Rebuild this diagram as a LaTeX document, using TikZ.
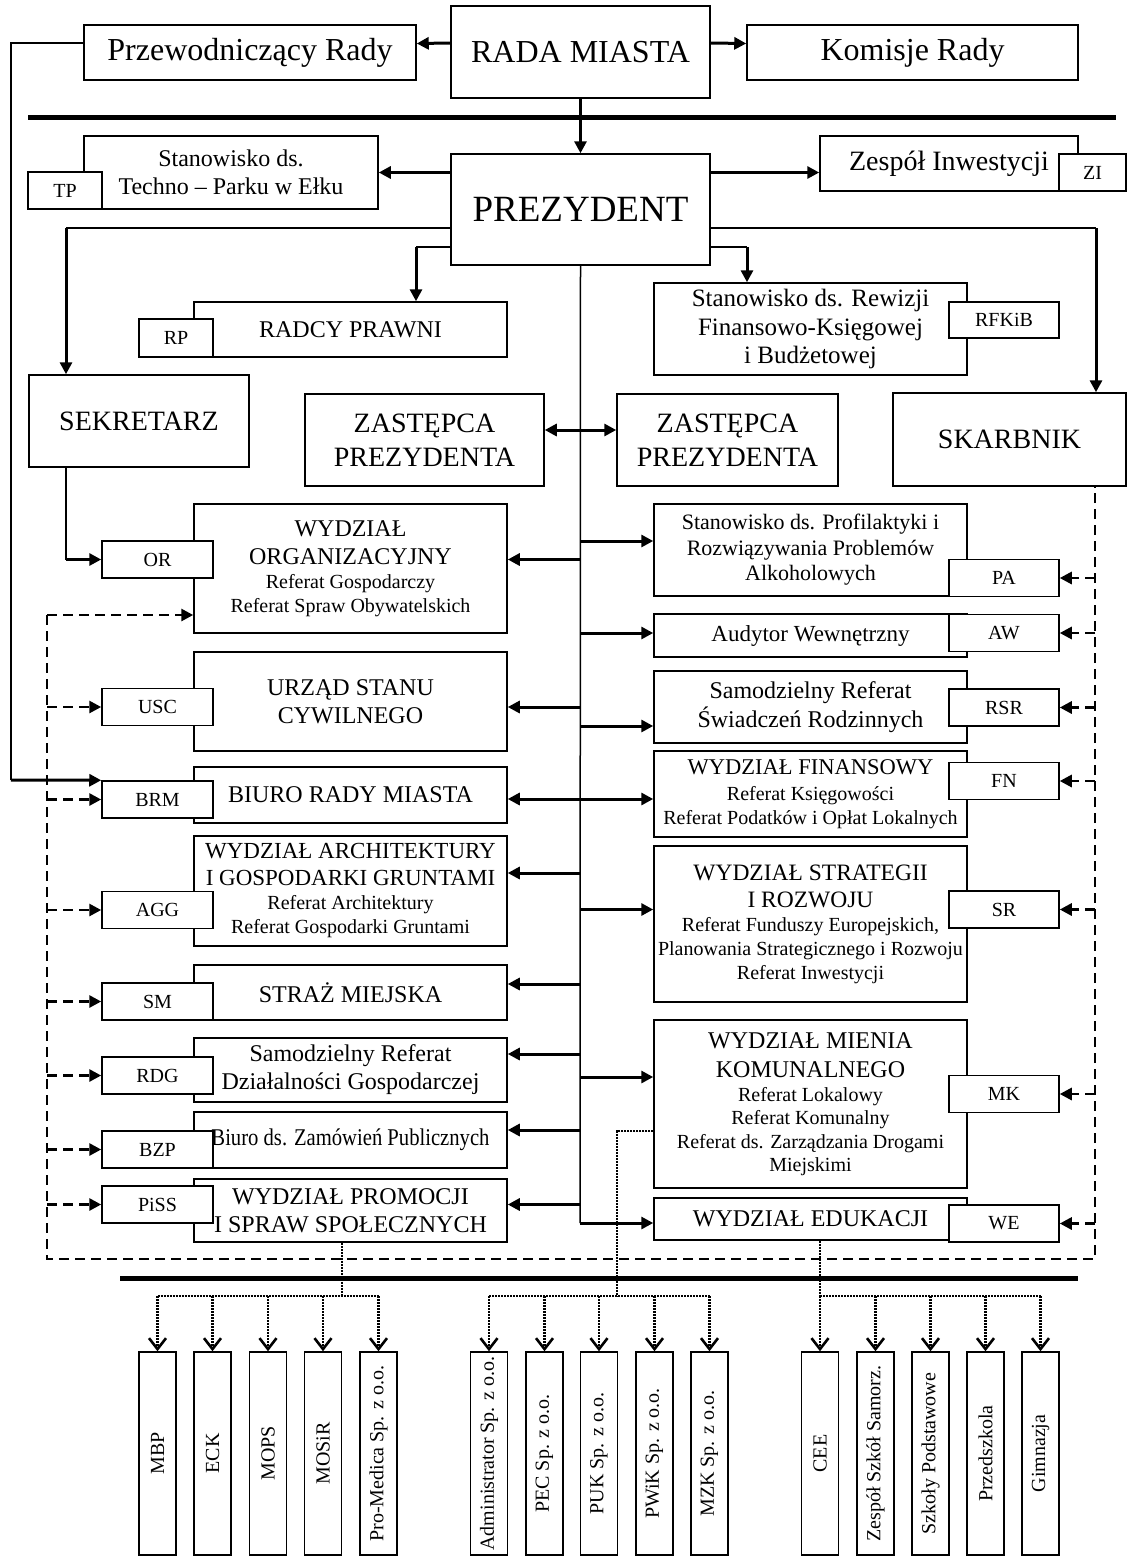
\documentclass[tikz,border=0pt]{standalone}
\usepackage{fontspec}
\setmainfont{Liberation Serif}
\usetikzlibrary{positioning, calc, arrows.meta}

\newcommand\topfont{\fontsize{32}{36}\selectfont}
\newcommand\bossfont{\fontsize{28}{34}\selectfont}
\newcommand\headfont{\fontsize{24}{28}\selectfont}
\newcommand\reffont{\fontsize{20}{24}\selectfont}

\begin{document}
\begin{tikzpicture}
    [x=1pt, y=-1pt,
    box/.style={rectangle, draw=black, line width=1.5pt, fill=white, inner sep=0pt, align=center},
    tag/.style={box, minimum width=111pt, minimum height=37pt, font=\reffont},
    unit/.style={box, rotate=90, minimum width=203pt, minimum height=37pt, font=\reffont},
    link/.style={line width=1.5pt},
    bar/.style={line width=5pt},
    arr/.style={line width=3pt, -{Triangle[length=12pt,width=12pt]}},
    ctrl/.style={line width=2.8pt, dash pattern=on 10pt off 6pt},
    ctrlarr/.style={ctrl, -{Triangle[length=12pt,width=12pt]}},
    sub/.style={line width=2.5pt, dash pattern=on 2pt off 1pt},
    subarr/.style={sub, -{Straight Barb[length=11pt,width=17pt,line width=2.6pt]}}]

    \useasboundingbox (0,0) rectangle (1128,1567);

    %Nodes
    \node[box, minimum width=259pt, minimum height=92pt, font=\topfont](RADA) at (580.5,52) {RADA MIASTA};
    \node[box, minimum width=332pt, minimum height=55pt, font=\topfont](PR) at (250,52.5) {Przewodniczący Rady};
    \node[box, minimum width=331pt, minimum height=55pt, font=\topfont](KR) at (912.5,52.5) {Komisje Rady};
    \node[box, minimum width=259pt, minimum height=111pt, font=\fontsize{37}{40}\selectfont](PREZ) at (580.5,209.5) {PREZYDENT};

    \node[box, minimum width=294pt, minimum height=73pt, font=\headfont](techno) at (231,172.5) {Stanowisko ds.\\ Techno -- Parku w Ełku};
    \node[box, minimum width=258pt, minimum height=55pt, font=\fontsize{28}{32}\selectfont](zespol) at (949,163.5) {Zespół Inwestycji};
    \node[box, minimum width=313pt, minimum height=55pt, font=\headfont](radcy) at (350.5,329.5) {RADCY PRAWNI};
    \node[box, minimum width=313pt, minimum height=92pt, font=\fontsize{25}{28.5}\selectfont](rewiz) at (810.5,329) {Stanowisko ds. Rewizji\\ Finansowo-Księgowej\\ i Budżetowej};

    \node[box, minimum width=220pt, minimum height=92pt, font=\bossfont](SEK) at (139,421) {SEKRETARZ};
    \node[box, minimum width=239pt, minimum height=92pt, font=\bossfont](Z1) at (424.5,440) {ZASTĘPCA\\ PREZYDENTA};
    \node[box, minimum width=221pt, minimum height=92pt, font=\bossfont](Z2) at (727.5,440) {ZASTĘPCA\\ PREZYDENTA};
    \node[box, minimum width=233pt, minimum height=93pt, font=\bossfont](SKARB) at (1009.5,439.5) {SKARBNIK};

    % left column
    \node[box, minimum width=313pt, minimum height=129pt, font=\reffont](wydzOrg) at (350.5,568.5) {\headfont WYDZIAŁ\\[4pt] \headfont ORGANIZACYJNY\\ Referat Gospodarczy\\ Referat Spraw Obywatelskich};
    \node[box, minimum width=313pt, minimum height=99pt, font=\headfont](urzad) at (350.5,701.5) {URZĄD STANU\\ CYWILNEGO};
    \node[box, minimum width=313pt, minimum height=56pt, font=\headfont](biuro) at (350.5,795) {BIURO RADY MIASTA};
    \node[box, minimum width=313pt, minimum height=110pt, font=\reffont](archit) at (350.5,891) {\fontsize{23}{27}\selectfont WYDZIAŁ ARCHITEKTURY\\[3pt] \fontsize{23}{27}\selectfont I GOSPODARKI GRUNTAMI\\ Referat Architektury\\ Referat Gospodarki Gruntami};
    \node[box, minimum width=313pt, minimum height=55pt, font=\headfont](straz) at (350.5,992.5) {STRAŻ MIEJSKA};
    \node[box, minimum width=313pt, minimum height=64pt, font=\headfont](dzialal) at (350.5,1070) {Samodzielny Referat\\ Działalności Gospodarczej};
    \node[box, minimum width=313pt, minimum height=56pt, font=\headfont](zamow) at (350.5,1140) {\scalebox{0.86}[1]{Biuro ds. Zamówień Publicznych}};
    \node[box, minimum width=313pt, minimum height=63pt, font=\headfont](promoc) at (350.5,1210.5) {WYDZIAŁ PROMOCJI\\ I SPRAW SPOŁECZNYCH};

    % right column
    \node[box, minimum width=313pt, minimum height=92pt, font=\fontsize{22}{25.5}\selectfont](profil) at (810.5,550) {Stanowisko ds. Profilaktyki i\\ Rozwiązywania Problemów\\ Alkoholowych};
    \node[box, minimum width=313pt, minimum height=43pt, font=\fontsize{23}{27}\selectfont](audyt) at (810.5,635.5) {Audytor Wewnętrzny};
    \node[box, minimum width=313pt, minimum height=72pt, font=\fontsize{24}{29}\selectfont](swiad) at (810.5,707) {Samodzielny Referat\\ Świadczeń Rodzinnych};
    \node[box, minimum width=313pt, minimum height=86pt, font=\reffont](finans) at (810.5,794) {\fontsize{22.5}{26}\selectfont WYDZIAŁ FINANSOWY\\[2pt] Referat Księgowości\\ Referat Podatków i Opłat Lokalnych};
    \node[box, minimum width=313pt, minimum height=156pt, font=\reffont](strat) at (810.5,924) {\fontsize{23.5}{27}\selectfont WYDZIAŁ STRATEGII\\[3pt] \fontsize{23.5}{27}\selectfont I ROZWOJU\\ Referat Funduszy Europejskich,\\ Planowania Strategicznego i Rozwoju\\ Referat Inwestycji};
    \node[box, minimum width=313pt, minimum height=168pt, font=\fontsize{20}{23.5}\selectfont](mienie) at (810.5,1104) {\headfont WYDZIAŁ MIENIA\\[6pt] \headfont KOMUNALNEGO\\ Referat Lokalowy\\ Referat Komunalny\\ Referat ds. Zarządzania Drogami\\ Miejskimi};
    \node[box, minimum width=313pt, minimum height=42pt, font=\headfont](eduk) at (810.5,1219) {WYDZIAŁ EDUKACJI};

    % tags
    \node[tag, minimum width=74pt](TP) at (65,190.5) {TP};
    \node[tag, minimum width=67pt](ZI) at (1092.5,172.5) {ZI};
    \node[tag, minimum width=74pt, minimum height=38pt](RP) at (176,338) {RP};
    \node[tag, minimum width=110pt, minimum height=36pt](RFKiB) at (1004,320) {RFKiB};

    \node[tag](OR) at (157.5,559.5) {OR};
    \node[tag](USC) at (157.5,707) {USC};
    \node[tag](BRM) at (157.5,799.5) {BRM};
    \node[tag](AGG) at (157.5,910) {AGG};
    \node[tag](SM) at (157.5,1001.5) {SM};
    \node[tag](RDG) at (157.5,1075.5) {RDG};
    \node[tag](BZP) at (157.5,1149.5) {BZP};
    \node[tag](PiSS) at (157.5,1204.5) {PiSS};

    \node[tag, minimum width=110pt](PA) at (1004,578) {PA};
    \node[tag, minimum width=110pt](AW) at (1004,633) {AW};
    \node[tag, minimum width=110pt](RSR) at (1004,707.5) {RSR};
    \node[tag, minimum width=110pt](FN) at (1004,781) {FN};
    \node[tag, minimum width=110pt](SR) at (1004,909.5) {SR};
    \node[tag, minimum width=110pt](MK) at (1004,1094) {MK};
    \node[tag, minimum width=110pt](WE) at (1004,1223.5) {WE};

    % bottom units
    \node[unit](MBP) at (157.5,1453.5) {MBP};
    \node[unit](ECK) at (212.5,1453.5) {ECK};
    \node[unit](MOPS) at (268,1453.5) {MOPS};
    \node[unit](MOSiR) at (323,1453.5) {MOSiR};
    \node[unit](PM) at (378.5,1453.5) {Pro-Medica Sp. z o.o.};

    \node[unit](ADM) at (489,1453.5) {Administrator Sp. z o.o.};
    \node[unit](PEC) at (544.5,1453.5) {PEC Sp. z o.o.};
    \node[unit](PUK) at (599,1453.5) {PUK Sp. z o.o.};
    \node[unit](PWiK) at (654.5,1453.5) {PWiK Sp. z o.o.};
    \node[unit](MZK) at (709.5,1453.5) {MZK Sp. z o.o.};

    \node[unit](CEE) at (820,1453.5) {CEE};
    \node[unit](ZSS) at (875.5,1453.5) {Zespół Szkół Samorz.};
    \node[unit](SP) at (930.5,1453.5) {Szkoły Podstawowe};
    \node[unit](PRZ) at (985.5,1453.5) {Przedszkola};
    \node[unit](GIM) at (1040.5,1453.5) {Gimnazja};

    \coordinate (k1) at (66,228);
    \coordinate (k2) at (416,247);
    \coordinate (k3) at (1096,228);
    \coordinate (k4) at (747,247);
    \coordinate (rail) at (11,780);
    \coordinate (spine) at (580,1223);
    \coordinate (dl) at (47,1259);
    \coordinate (dr) at (1095,1259);
    \coordinate (J1) at (342,1296);
    \coordinate (J2) at (617,1296);
    \coordinate (J3) at (820,1296);

    %Lines
    \draw[bar] (28,117) -- (1116,117);
    \draw[bar] (120,1278) -- (1078,1278);

    \draw[arr] ([yshift=9pt]RADA.west) -- ([yshift=9pt]PR.east);
    \draw[arr] ([yshift=9pt]RADA.east) -- ([yshift=9pt]KR.west);
    \draw[arr] (RADA.south) -- (PREZ.north);

    \draw[arr] (PREZ.west |- techno) -- (techno.east);
    \draw[arr] (PREZ.east |- ZI) -- (zespol.west |- ZI);

    \draw[link] (PREZ.west |- k1) -- (k1);
    \draw[arr] (k1) -- (k1 |- SEK.north);
    \draw[link] (PREZ.west |- k2) -- (k2);
    \draw[arr] (k2) -- (k2 |- radcy.north);
    \draw[link] (PREZ.east |- k3) -- (k3);
    \draw[arr] (k3) -- (k3 |- SKARB.north);
    \draw[link] (PREZ.east |- k4) -- (k4);
    \draw[arr] (k4) -- (k4 |- rewiz.north);

    \draw[{Triangle[length=12pt,width=12pt]}-{Triangle[length=12pt,width=12pt]}, line width=3pt] ([yshift=10pt]Z1.east) -- ([yshift=10pt]Z2.west);

    \draw[link] ([yshift=9.5pt]PR.west) -| (rail);
    \draw[arr] (rail) -- (BRM.north west);

    \draw[link] (SEK.south -| k1) -- (k1 |- OR);
    \draw[arr] (k1 |- OR) -- (OR.west);

    % president line
    \draw[link] (PREZ.south) -- (spine);
    \draw[arr] (spine |- OR) -- (wydzOrg.east |- OR);
    \draw[arr] (spine |- USC) -- (urzad.east |- USC);
    \draw[arr] (spine |- 0,799) -- (biuro.east |- 0,799);
    \draw[arr] (spine |- 0,873) -- (archit.east |- 0,873);
    \draw[arr] (spine |- 0,984) -- (straz.east |- 0,984);
    \draw[arr] (spine |- 0,1054) -- (dzialal.east |- 0,1054);
    \draw[arr] (spine |- 0,1130) -- (zamow.east |- 0,1130);
    \draw[arr] (spine |- PiSS) -- (promoc.east |- PiSS);

    \draw[arr] (spine |- 0,541) -- (profil.west |- 0,541);
    \draw[arr] (spine |- AW) -- (audyt.west |- AW);
    \draw[arr] (spine |- 0,726) -- (swiad.west |- 0,726);
    \draw[arr] (spine |- 0,799) -- (finans.west |- 0,799);
    \draw[arr] (spine |- SR) -- (strat.west |- SR);
    \draw[arr] (spine |- 0,1077) -- (mienie.west |- 0,1077);
    \draw[arr] (spine) -- (eduk.west |- spine);

    % secretary and treasurer
    \draw[ctrl] (dl |- 0,615) -- (dl) -- (dr) -- (dr |- SKARB.south);
    \draw[ctrlarr] (dl |- 0,615) -- (wydzOrg.west |- 0,615);
    \draw[ctrlarr] (dl |- USC) -- (USC.west);
    \draw[ctrlarr] (dl |- BRM) -- (BRM.west);
    \draw[ctrlarr] (dl |- AGG) -- (AGG.west);
    \draw[ctrlarr] (dl |- SM) -- (SM.west);
    \draw[ctrlarr] (dl |- RDG) -- (RDG.west);
    \draw[ctrlarr] (dl |- BZP) -- (BZP.west);
    \draw[ctrlarr] (dl |- PiSS) -- (PiSS.west);

    \draw[ctrlarr] (dr |- PA) -- (PA.east);
    \draw[ctrlarr] (dr |- AW) -- (AW.east);
    \draw[ctrlarr] (dr |- RSR) -- (RSR.east);
    \draw[ctrlarr] (dr |- FN) -- (FN.east);
    \draw[ctrlarr] (dr |- SR) -- (SR.east);
    \draw[ctrlarr] (dr |- MK) -- (MK.east);
    \draw[ctrlarr] (dr |- WE) -- (WE.east);

    % units
    \draw[sub] (promoc.south -| J1) -- (J1);
    \draw[sub] (MBP.east |- J1) -- (PM.east |- J1);
    \draw[subarr] (MBP.east |- J1) -- (MBP.east);
    \draw[subarr] (ECK.east |- J1) -- (ECK.east);
    \draw[subarr] (MOPS.east |- J1) -- (MOPS.east);
    \draw[subarr] (MOSiR.east |- J1) -- (MOSiR.east);
    \draw[subarr] (PM.east |- J1) -- (PM.east);

    \draw[sub] (mienie.west |- 0,1131) -| (J2);
    \draw[sub] (ADM.east |- J2) -- (MZK.east |- J2);
    \draw[subarr] (ADM.east |- J2) -- (ADM.east);
    \draw[subarr] (PEC.east |- J2) -- (PEC.east);
    \draw[subarr] (PUK.east |- J2) -- (PUK.east);
    \draw[subarr] (PWiK.east |- J2) -- (PWiK.east);
    \draw[subarr] (MZK.east |- J2) -- (MZK.east);

    \draw[sub] (eduk.south -| J3) -- (J3);
    \draw[sub] (CEE.east |- J3) -- (GIM.east |- J3);
    \draw[subarr] (CEE.east |- J3) -- (CEE.east);
    \draw[subarr] (ZSS.east |- J3) -- (ZSS.east);
    \draw[subarr] (SP.east |- J3) -- (SP.east);
    \draw[subarr] (PRZ.east |- J3) -- (PRZ.east);
    \draw[subarr] (GIM.east |- J3) -- (GIM.east);
\end{tikzpicture}
\end{document}
